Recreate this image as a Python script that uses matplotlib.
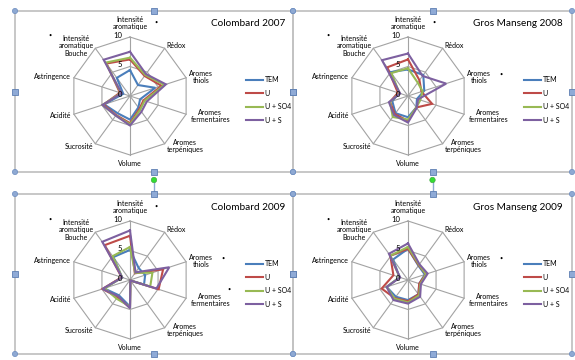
import numpy as np
import matplotlib.pyplot as plt
from matplotlib.patches import Circle, Rectangle

plt.rcParams['font.family'] = ['Lato', 'DejaVu Sans']

W, H = 575, 360
SKALA = 5.9      # pixel per satuan skor
L = 14.0         # setengah lebar sumbu radar (satuan skor)

kategori = ['Intensité\naromatique', 'Rédox', 'Aromes\nthiols', 'Aromes\nfermentaires',
            'Aromes\nterpéniques', 'Volume', 'Sucrosité', 'Acidité', 'Astringence',
            'Intensité\naromatique\nBouche']
perlakuan = ['TEM', 'U', 'U + SO4', 'U + S']
warna = ['#4A7EBB', '#BE4B48', '#98B954', '#7D60A0']

# skor tiap perlakuan: TEM, U, U + SO4, U + S
colombard_2007 = [
    [4.4, 2.3, 4.5, 1.8, 2.4, 4.0, 3.6, 4.6, 1.2, 3.8],
    [6.2, 4.2, 5.6, 2.4, 2.7, 4.6, 4.0, 4.7, 1.8, 6.8],
    [6.5, 4.4, 6.1, 2.6, 2.9, 4.8, 4.1, 4.9, 1.6, 7.0],
    [7.5, 4.6, 6.4, 3.0, 3.3, 5.0, 4.1, 4.9, 1.5, 7.6],
]
gros_manseng_2008 = [
    [4.5, 4.4, 2.9, 1.6, 2.4, 3.6, 3.6, 2.8, 1.6, 5.0],
    [6.2, 3.3, 2.4, 4.3, 2.4, 4.2, 3.8, 3.2, 1.8, 6.0],
    [4.7, 2.8, 2.6, 2.2, 2.4, 4.0, 4.4, 3.2, 1.5, 4.8],
    [7.2, 4.2, 6.8, 1.8, 2.5, 4.5, 4.0, 3.4, 1.4, 7.5],
]
colombard_2009 = [
    [5.1, 2.5, 2.7, 2.5, 0.1, 4.5, 3.2, 4.6, 1.4, 4.8],
    [7.5, 1.4, 5.9, 5.1, 0.1, 4.7, 3.6, 4.9, 1.5, 7.3],
    [5.6, 1.5, 4.0, 3.6, 0.1, 4.5, 3.9, 4.5, 1.4, 5.0],
    [8.4, 1.6, 7.0, 4.7, 0.1, 4.8, 3.4, 4.9, 1.4, 8.0],
]
gros_manseng_2009 = [
    [5.3, 3.0, 3.0, 2.0, 3.0, 3.4, 3.5, 3.8, 1.5, 4.3],
    [5.3, 3.1, 3.2, 2.0, 3.0, 3.6, 3.8, 4.7, 2.6, 5.1],
    [5.6, 3.2, 3.2, 2.2, 3.2, 3.8, 3.9, 3.8, 1.5, 5.1],
    [6.2, 3.3, 3.5, 2.3, 3.5, 4.0, 4.2, 3.8, 1.4, 5.5],
]

# tanda signifikan (indeks kategori)
bintang_c07 = [0, 9]
bintang_g08 = [0, 9, 2]
bintang_c09 = [0, 9, 2, 3]
bintang_g09 = [9, 2]

# letak titik tanda relatif terhadap pusat (px, y ke bawah)
geser_bintang = {0: (26, -74), 9: (-80, -61), 2: (93, -22), 3: (99, 9)}

sudut = np.arange(10) * 2 * np.pi / 10


def fx(px):
    return px / W


def fy(py):
    return 1 - py / H


def sumbu(fig, cx, cy):
    s = 2 * L * SKALA
    ax = fig.add_axes([fx(cx - s / 2), fy(cy + s / 2), s / W, s / H])
    ax.set_xlim(-L, L)
    ax.set_ylim(-L, L)
    ax.axis('off')
    ax.set_zorder(2)
    return ax


def radar(fig, cx, cy, data, judul, bintang):
    ax = sumbu(fig, cx, cy)
    t = np.append(sudut, 0)
    for lv in [5, 10]:
        ax.plot(lv * np.sin(t), lv * np.cos(t), color='#a3a3a3', lw=0.8, zorder=1)
    for a in sudut:
        ax.plot([0, 10 * np.sin(a)], [0, 10 * np.cos(a)], color='#a3a3a3', lw=0.8, zorder=1)

    garis = []
    for nilai, w, nama in zip(data, warna, perlakuan):
        v = np.array(nilai + nilai[:1])
        g, = ax.plot(v * np.sin(t), v * np.cos(t), color=w, lw=1.5, label=nama,
                     solid_joinstyle='miter', zorder=3)
        garis.append(g)

    # label kategori
    for i, nama in enumerate(kategori):
        a = sudut[i]
        if i == 0:
            ax.text(0, 11.2, nama, ha='center', va='bottom', fontsize=5, linespacing=1.05)
        elif i == 5:
            ax.text(0, -10.9, nama, ha='center', va='top', fontsize=5)
        else:
            r = 10.8 if i == 3 else 10.5
            ha = 'left' if np.sin(a) > 0 else 'right'
            ax.text(r * np.sin(a), r * np.cos(a), nama, ha=ha, va='center',
                    fontsize=5, linespacing=1.05, multialignment='center')

    # label skala
    for lv in [0, 5, 10]:
        ax.text(-1.3, lv + 0.3, str(lv), ha='right', va='center', fontsize=5.5)

    for i in bintang:
        dx, dy = geser_bintang[i]
        ax.text(dx / SKALA, -dy / SKALA, '•', ha='center', va='center', fontsize=4)

    fig.text(fx(cx + 155), fy(cy - 72), judul, ha='right', va='center', fontsize=7.2)

    ax.legend(handles=garis, loc='center left',
              bbox_to_anchor=(fx(cx + 113), fy(cy + 4)), bbox_transform=fig.transFigure,
              frameon=False, fontsize=5, handlelength=2.4, handletextpad=0.2,
              labelspacing=0.92, borderpad=0)
    return ax


def bingkai(ax0, x0, y0, x1, y1, putar=False):
    ax0.add_patch(Rectangle((x0, y0), x1 - x0, y1 - y0, fill=False,
                            ec='#c3c3c3', lw=1.3, zorder=1))
    xm, ym = (x0 + x1) / 2, (y0 + y1) / 2
    if putar:
        ax0.plot([xm, xm], [y0 - 14, y0], color='#8da9d4', lw=1.0, zorder=2)
        ax0.add_patch(Circle((xm, y0 - 14), 2.7, fc='#33dd33', ec='#44aa44', lw=0.5, zorder=3))
    for (x, y) in [(x0, y0), (x1, y0), (x0, y1), (x1, y1)]:
        ax0.add_patch(Circle((x, y), 2.6, fc='#8ea9d3', ec='#6c8cbf', lw=0.5, zorder=3))
    for (x, y) in [(xm, y0), (xm, y1), (x0, ym), (x1, ym)]:
        ax0.add_patch(Rectangle((x - 3, y - 3), 6, 6, fc='#8faad6', ec='#5e7fb2',
                                lw=0.6, zorder=3))


fig = plt.figure(figsize=(W / 100, H / 100), dpi=100)
ax0 = fig.add_axes([0, 0, 1, 1])
ax0.set_xlim(0, W)
ax0.set_ylim(H, 0)
ax0.axis('off')

bingkai(ax0, 15, 11, 293, 172)
bingkai(ax0, 293, 11, 572, 172)
bingkai(ax0, 15, 194, 293, 354, putar=True)
bingkai(ax0, 293, 194, 572, 354, putar=True)

radar(fig, 130, 96, colombard_2007, 'Colombard 2007', bintang_c07)
radar(fig, 408, 96, gros_manseng_2008, 'Gros Manseng 2008', bintang_g08)
radar(fig, 130, 280, colombard_2009, 'Colombard 2009', bintang_c09)
radar(fig, 408, 280, gros_manseng_2009, 'Gros Manseng 2009', bintang_g09)

fig.savefig('out.png', dpi=100)
